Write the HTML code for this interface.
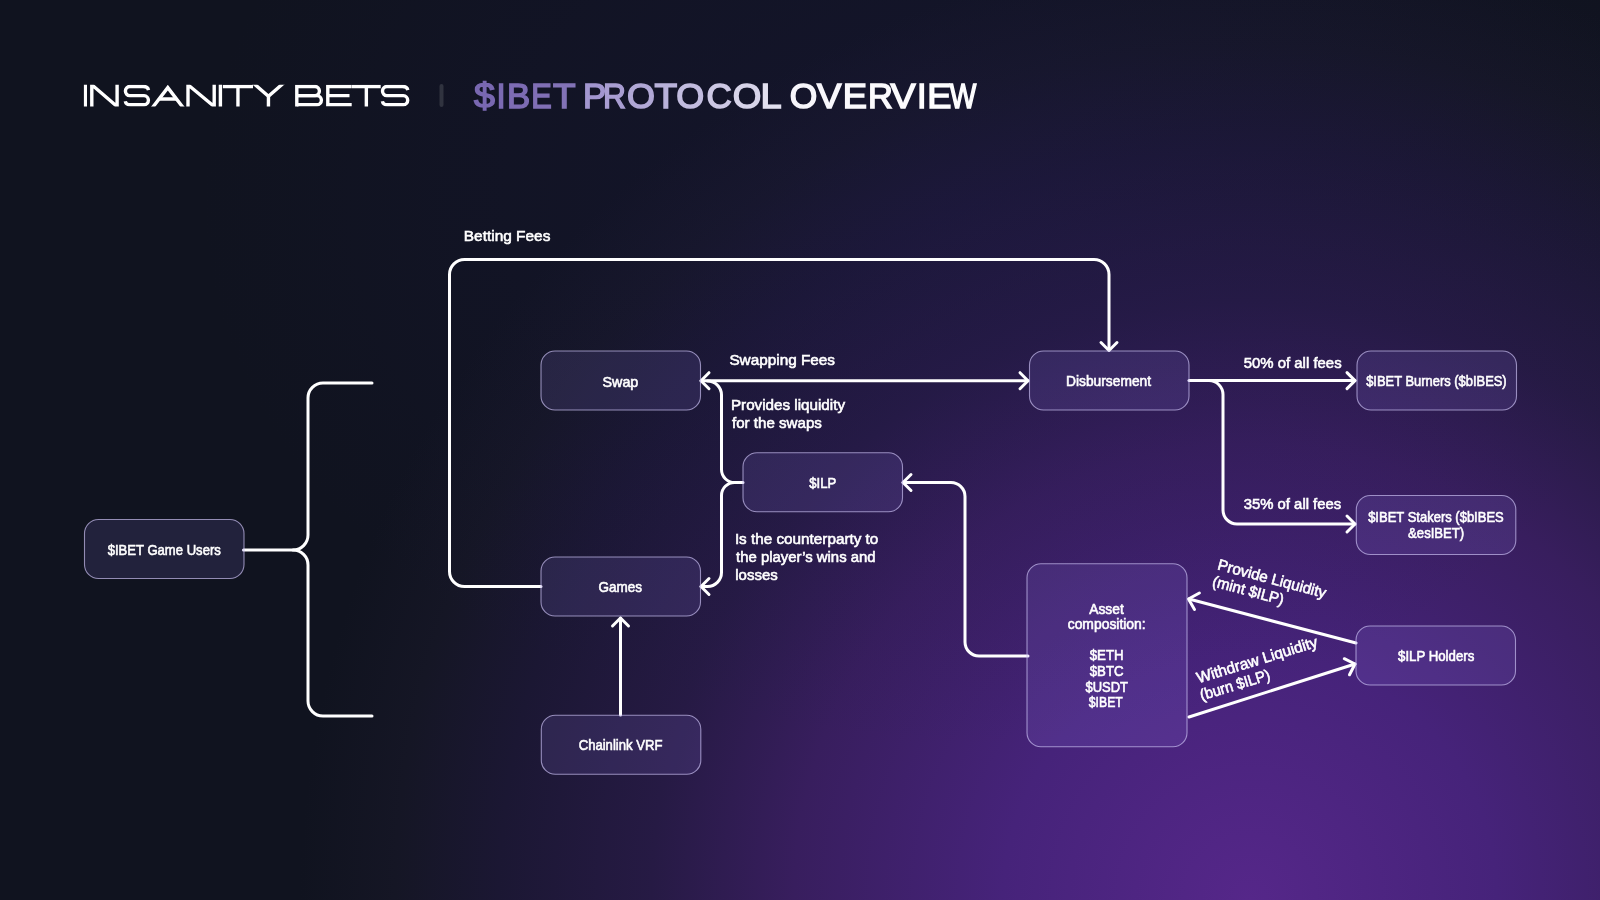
<!DOCTYPE html>
<html>
<head>
<meta charset="utf-8">
<style>
html,body{margin:0;padding:0;width:1600px;height:900px;overflow:hidden;background:#10131f;}
body{position:relative;font-family:"Liberation Sans",sans-serif;}
#bg{position:absolute;left:0;top:0;width:1600px;height:900px;
background: radial-gradient(ellipse 750px 550px at 950px 200px, rgba(32,26,80,0.28) 0%, rgba(32,26,80,0.12) 60%, rgba(32,26,80,0) 100%), radial-gradient(circle 950px at 1250px 900px, #552789 0%, #46237a 26%, #381e5e 48%, #261a44 63%, #1b1733 79%, #151625 90%, #10131f 100%);}
svg{position:absolute;left:0;top:0;will-change:transform;}
text{font-family:"Liberation Sans",sans-serif;}
.t{fill:#fff;stroke:#fff;stroke-width:0.6px;}
.bx{fill:rgba(165,140,255,0.13);stroke:rgba(200,190,240,0.7);stroke-width:1.1;}
.ln{fill:none;stroke:#fff;stroke-width:3;stroke-linecap:round;stroke-linejoin:round;}
</style>
</head>
<body>
<div id="bg"></div>
<svg width="1600" height="900" viewBox="0 0 1600 900">
<!-- title -->
<clipPath id="tc"><rect x="80" y="84.8" width="335" height="21.70"/></clipPath>
<g clip-path="url(#tc)" fill="#fff" stroke="#fff" stroke-width="3.4" stroke-linejoin="miter" stroke-miterlimit="10">
<g fill="none">
<path d="M85.45 80 V112" stroke-width="3.10"/>
<path d="M91.80 112 V84.80 L117.10 106.50 V78"/>
<path d="M148.50 90.10 C148.00 87.10 146.00 86.50 143.10 86.50 H129.78 A4.58 4.58 0 0 0 129.78 95.65 H144.03 A4.58 4.58 0 0 1 144.03 104.80 H130.70 C127.80 104.80 125.80 104.20 125.30 101.20"/>
<path d="M148.75 112.50 L167.80 87.60 L186.85 112.50"/><path d="M159.20 99.00 H176.40"/>
<path d="M188.00 112 V84.80 L214.20 106.50 V78"/>
<path d="M220.40 80 V112" stroke-width="3.40"/>
<path d="M222.90 86.50 H253.00 M237.95 86.50 V108.50"/>
<path d="M249.56 79.80 L268.45 96.30 L287.34 79.80"/><path d="M268.45 96.30 V108.50"/>
<path d="M296.80 108.50 V86.50 H315.03 A4.58 4.58 0 0 1 315.03 95.65 H296.80"/><path d="M296.80 95.65 H317.03 A4.58 4.58 0 0 1 317.03 104.80 H296.80"/>
<path d="M351.70 86.50 H327.80 V104.80 H351.70 M327.80 95.65 H349.50"/>
<path d="M352.00 86.50 H380.70 M366.35 86.50 V108.50"/>
<path d="M407.80 90.10 C407.30 87.10 405.30 86.50 402.40 86.50 H386.87 A4.58 4.58 0 0 0 386.87 95.65 H403.33 A4.58 4.58 0 0 1 403.33 104.80 H387.80 C384.90 104.80 382.90 104.20 382.40 101.20"/>
</g></g>
<rect x="439.5" y="84" width="4" height="23" rx="2" fill="#30333f"/>
<text transform="translate(473.89 108) scale(1.0770 1)" style="font-size:34.9px;font-weight:normal;fill:#7968b1;stroke:#7968b1;stroke-width:1.5px;">$</text>
<text transform="translate(496.48 108) scale(0.9413 1)" style="font-size:34.9px;font-weight:normal;fill:#7b6ab2;stroke:#7b6ab2;stroke-width:1.5px;">I</text>
<text transform="translate(506.90 108) scale(0.9967 1)" style="font-size:34.9px;font-weight:normal;fill:#7d6cb4;stroke:#7d6cb4;stroke-width:1.5px;">B</text>
<text transform="translate(531.14 108) scale(0.8817 1)" style="font-size:34.9px;font-weight:normal;fill:#806fb5;stroke:#806fb5;stroke-width:1.5px;">E</text>
<text transform="translate(552.98 108) scale(1.0587 1)" style="font-size:34.9px;font-weight:normal;fill:#8373b7;stroke:#8373b7;stroke-width:1.5px;">T</text>
<text transform="translate(582.90 108) scale(0.9967 1)" style="font-size:34.9px;font-weight:normal;fill:#a296cf;stroke:#a296cf;stroke-width:1.5px;">P</text>
<text transform="translate(602.88 108) scale(0.9101 1)" style="font-size:34.9px;font-weight:normal;fill:#a99ed2;stroke:#a99ed2;stroke-width:1.5px;">R</text>
<text transform="translate(626.98 108) scale(1.0301 1)" style="font-size:34.9px;font-weight:normal;fill:#b1a8d6;stroke:#b1a8d6;stroke-width:1.5px;">O</text>
<text transform="translate(654.58 108) scale(1.0634 1)" style="font-size:34.9px;font-weight:normal;fill:#b9b2da;stroke:#b9b2da;stroke-width:1.5px;">T</text>
<text transform="translate(676.28 108) scale(1.0301 1)" style="font-size:34.9px;font-weight:normal;fill:#c2bcdf;stroke:#c2bcdf;stroke-width:1.5px;">O</text>
<text transform="translate(706.47 108) scale(1.0046 1)" style="font-size:34.9px;font-weight:normal;fill:#cdc8e4;stroke:#cdc8e4;stroke-width:1.5px;">C</text>
<text transform="translate(732.66 108) scale(1.0538 1)" style="font-size:34.9px;font-weight:normal;fill:#d7d4e9;stroke:#d7d4e9;stroke-width:1.5px;">O</text>
<text transform="translate(760.40 108) scale(1.0893 1)" style="font-size:34.9px;font-weight:normal;fill:#e2e0ef;stroke:#e2e0ef;stroke-width:1.5px;">L</text>
<text transform="translate(789.70 108) scale(1.0143 1)" style="font-size:34.9px;font-weight:normal;fill:#f7f6fb;stroke:#f7f6fb;stroke-width:1.5px;">O</text>
<text transform="translate(816.90 108) scale(1.0479 1)" style="font-size:34.9px;font-weight:normal;fill:#f8f7fc;stroke:#f8f7fc;stroke-width:1.5px;">V</text>
<text transform="translate(842.80 108) scale(1.0433 1)" style="font-size:34.9px;font-weight:normal;fill:#faf9fc;stroke:#faf9fc;stroke-width:1.5px;">E</text>
<text transform="translate(867.92 108) scale(0.9867 1)" style="font-size:34.9px;font-weight:normal;fill:#fbfafd;stroke:#fbfafd;stroke-width:1.5px;">R</text>
<text transform="translate(890.62 108) scale(1.0766 1)" style="font-size:34.9px;font-weight:normal;fill:#fcfbfd;stroke:#fcfbfd;stroke-width:1.5px;">V</text>
<text transform="translate(917.08 108) scale(0.9831 1)" style="font-size:34.9px;font-weight:normal;fill:#fdfcfe;stroke:#fdfcfe;stroke-width:1.5px;">I</text>
<text transform="translate(927.21 108) scale(1.0384 1)" style="font-size:34.9px;font-weight:normal;fill:#fdfdfe;stroke:#fdfdfe;stroke-width:1.5px;">E</text>
<text transform="translate(949.86 108) scale(0.8057 1)" style="font-size:34.9px;font-weight:normal;fill:#fefeff;stroke:#fefeff;stroke-width:1.5px;">W</text>

<g class="ln">
 <path d="M243.5 550 H293 A15 15 0 0 0 308 535 V398 A15 15 0 0 1 323 383 H372"/>
 <path d="M293 550 A15 15 0 0 1 308 565 V701 A15 15 0 0 0 323 716 H372"/>
 <path d="M541 586.5 H464.5 A15 15 0 0 1 449.5 571.5 V274.5 A15 15 0 0 1 464.5 259.5 H1094 A15 15 0 0 1 1109 274.5 V350"/>
 <path d="M1101 342.5 L1109 350.5 L1117 342.5"/>
 <path d="M701 380.7 H1028"/>
 <path d="M709 372.7 L701 380.7 L709 388.7"/>
 <path d="M1020 372.7 L1028 380.7 L1020 388.7"/>
 <path d="M743 482.5 H734.5 A13 13 0 0 1 721.5 469.5 V395 A14 14 0 0 0 707.5 381"/>
 <path d="M734.5 482.5 A13 13 0 0 0 721.5 495.5 V572.5 A14 14 0 0 1 707.5 586.5 H701"/>
 <path d="M709 578.5 L701 586.5 L709 594.5"/>
 <path d="M1189 380.6 H1355"/>
 <path d="M1347 372.6 L1355 380.6 L1347 388.6"/>
 <path d="M1209 380.6 A14 14 0 0 1 1223 394.6 V510 A14 14 0 0 0 1237 524 H1355"/>
 <path d="M1347 516 L1355 524 L1347 532"/>
 <path d="M1028 656 H979 A14 14 0 0 1 965 642 V496.5 A14 14 0 0 0 951 482.5 H903"/>
 <path d="M911 474.5 L903 482.5 L911 490.5"/>
 <path d="M620.5 715 V618"/>
 <path d="M612.5 626 L620.5 618 L628.5 626"/>
 <path d="M1356 643 L1189 599"/>
 <path d="M1199.4 593 L1188.5 599 L1194.5 609.4"/>
 <path d="M1189 717 L1355 664"/>
 <path d="M1344.3 658.7 L1355 664 L1349.5 674.8"/>
</g>
<g>
 <rect class="bx" x="84.5" y="519.5" width="159.5" height="59" rx="14"/>
 <rect class="bx" x="541" y="351" width="159.5" height="59" rx="14"/>
 <rect class="bx" x="1029.5" y="351" width="159.5" height="59" rx="14"/>
 <rect class="bx" x="1357" y="351" width="159.5" height="59" rx="14"/>
 <rect class="bx" x="743" y="452.8" width="159.5" height="59" rx="14"/>
 <rect class="bx" x="1356.3" y="495.5" width="159.5" height="59" rx="14"/>
 <rect class="bx" x="541" y="557" width="159.5" height="59" rx="14"/>
 <rect class="bx" x="541.3" y="715.3" width="159.5" height="59" rx="14"/>
 <rect class="bx" x="1027" y="563.8" width="160" height="183" rx="14"/>
 <rect class="bx" x="1356" y="626" width="159.5" height="59" rx="14"/>
</g>
<text class="t" x="107.64" y="555" textLength="113.18" lengthAdjust="spacingAndGlyphs" style="font-size:14.4px">$IBET Game Users</text>
<text class="t" x="602.54" y="386.5" textLength="35.77" lengthAdjust="spacingAndGlyphs" style="font-size:14.4px">Swap</text>
<text class="t" x="1066.02" y="386" textLength="85.08" lengthAdjust="spacingAndGlyphs" style="font-size:14.4px">Disbursement</text>
<text class="t" x="1366.14" y="386" textLength="140.55" lengthAdjust="spacingAndGlyphs" style="font-size:14.4px">$IBET Burners ($bIBES)</text>
<text class="t" x="809.24" y="487.8" textLength="27.02" lengthAdjust="spacingAndGlyphs" style="font-size:14.4px">$ILP</text>
<text class="t" x="1368.14" y="522.3" textLength="135.62" lengthAdjust="spacingAndGlyphs" style="font-size:14.4px">$IBET Stakers ($bIBES</text>
<text class="t" x="1408.10" y="537.8" textLength="56.09" lengthAdjust="spacingAndGlyphs" style="font-size:14.4px">&amp;esIBET)</text>
<text class="t" x="598.58" y="592" textLength="43.54" lengthAdjust="spacingAndGlyphs" style="font-size:14.4px">Games</text>
<text class="t" x="578.67" y="750.4" textLength="83.81" lengthAdjust="spacingAndGlyphs" style="font-size:14.4px">Chainlink VRF</text>
<text class="t" x="1089.27" y="613.6" textLength="34.53" lengthAdjust="spacingAndGlyphs" style="font-size:14.4px">Asset</text>
<text class="t" x="1067.70" y="629.2" textLength="78.01" lengthAdjust="spacingAndGlyphs" style="font-size:14.4px">composition:</text>
<text class="t" x="1089.74" y="660.4" textLength="33.83" lengthAdjust="spacingAndGlyphs" style="font-size:14.4px">$ETH</text>
<text class="t" x="1089.74" y="676" textLength="33.81" lengthAdjust="spacingAndGlyphs" style="font-size:14.4px">$BTC</text>
<text class="t" x="1085.44" y="691.6" textLength="42.58" lengthAdjust="spacingAndGlyphs" style="font-size:14.4px">$USDT</text>
<text class="t" x="1088.84" y="707.2" textLength="33.89" lengthAdjust="spacingAndGlyphs" style="font-size:14.4px">$IBET</text>
<text class="t" x="1398.04" y="661.3" textLength="76.27" lengthAdjust="spacingAndGlyphs" style="font-size:14.4px">$ILP Holders</text>
<text class="t" x="463.84" y="241.4" textLength="86.52" lengthAdjust="spacingAndGlyphs" style="font-size:15.4px">Betting Fees</text>
<text class="t" x="729.39" y="365.4" textLength="105.66" lengthAdjust="spacingAndGlyphs" style="font-size:15.4px">Swapping Fees</text>
<text class="t" x="730.94" y="410.4" textLength="114.10" lengthAdjust="spacingAndGlyphs" style="font-size:15.4px">Provides liquidity</text>
<text class="t" x="731.98" y="428.3" textLength="89.97" lengthAdjust="spacingAndGlyphs" style="font-size:15.4px">for the swaps</text>
<text class="t" x="734.88" y="543.5" textLength="143.46" lengthAdjust="spacingAndGlyphs" style="font-size:15.4px">Is the counterparty to</text>
<text class="t" x="736.07" y="561.5" textLength="139.62" lengthAdjust="spacingAndGlyphs" style="font-size:15.4px">the player’s wins and</text>
<text class="t" x="735.27" y="579.5" textLength="42.49" lengthAdjust="spacingAndGlyphs" style="font-size:15.4px">losses</text>
<text class="t" x="1243.68" y="368" textLength="97.96" lengthAdjust="spacingAndGlyphs" style="font-size:15.4px">50% of all fees</text>
<text class="t" x="1243.71" y="509.3" textLength="97.53" lengthAdjust="spacingAndGlyphs" style="font-size:15.4px">35% of all fees</text>
<g transform="translate(1217.6 569.5) rotate(15)"><text class="t" x="-0.96" y="0" textLength="111.70" lengthAdjust="spacingAndGlyphs" style="font-size:15.4px">Provide Liquidity</text><text class="t" x="-1.65" y="17.5" textLength="73.31" lengthAdjust="spacingAndGlyphs" style="font-size:15.4px">(mint $ILP)</text></g>
<g transform="translate(1198.3 683.3) rotate(-17)"><text class="t" x="0.22" y="0" textLength="125.51" lengthAdjust="spacingAndGlyphs" style="font-size:15.4px">Withdraw Liquidity</text><text class="t" x="-1.65" y="17.5" textLength="72.32" lengthAdjust="spacingAndGlyphs" style="font-size:15.4px">(burn $ILP)</text></g>
</svg>
</body>
</html>
